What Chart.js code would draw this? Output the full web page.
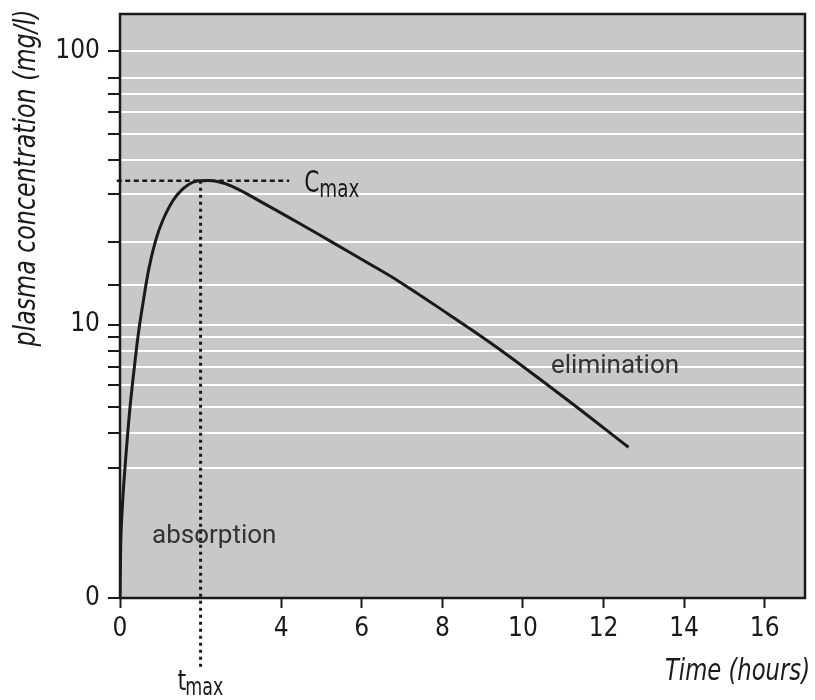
<!DOCTYPE html>
<html>
<head>
<meta charset="utf-8">
<script src="https://cdn.jsdelivr.net/npm/chart.js@4.4.1/dist/chart.umd.min.js"></script>
<style>
  html, body { margin: 0; padding: 0; background: #fff; }
</style>
</head>
<body>
<canvas id="pkChart" width="815" height="700"></canvas>
<script>
// Plasma concentration vs time
const timeHours = [0, 0.01, 0.025, 0.067, 0.124, 0.19, 0.265, 0.356, 0.455, 0.579, 0.723, 0.884, 1.057, 1.312, 1.559, 1.807, 2.0, 2.386, 2.797, 3.624, 4.448, 5.272, 6.099, 6.923, 8.161, 9.399, 11.13, 12.62];
const concentration = [1.0, 1.29, 1.71, 2.27, 3.0, 3.98, 5.27, 6.98, 9.25, 12.2, 16.2, 20.3, 24.0, 28.4, 31.4, 33.2, 33.6, 33.5, 32.0, 27.5, 23.5, 20.0, 17.0, 14.4, 10.9, 8.17, 5.27, 3.56];

// peak markers
const tMax = 2.0;
const cMax = 33.6;
const cMaxLineFrom = -0.08;
const cMaxLineTo = 4.2;
const tMaxLineBottom = 0.55; // dotted line runs on below the axis

// axes
const xTickValues = [0, 4, 6, 8, 10, 12, 14, 16];
const yTickValues = [1, 3, 4, 5, 6, 7, 8, 9, 10, 14, 20, 30, 40, 50, 60, 70, 80, 100];
const yLabelValues = [1, 10, 100];
const yLabelTexts = ['0', '10', '100'];

const NARROW = '"Liberation Sans Narrow", "DejaVu Sans Condensed", sans-serif';
const PLAIN = 'Roboto, "Liberation Sans", sans-serif';
const INK = '#1a1a1a';

const curvePoints = timeHours.map((t, i) => ({ x: t, y: concentration[i] }));

// draw text squeezed sideways (the original uses a condensed face)
function squeezed(ctx, text, x, y, sx, align) {
  ctx.save();
  ctx.translate(x, y);
  ctx.scale(sx, 1);
  ctx.textAlign = align || 'left';
  ctx.fillText(text, 0, 0);
  ctx.restore();
  return ctx.measureText(text).width * sx;
}

function fitScale(ctx, text, width) {
  return width / ctx.measureText(text).width;
}

// gray plot box, frame and the text labels
const decor = {
  id: 'decor',
  beforeDraw(chart) {
    const { ctx, chartArea: a } = chart;
    ctx.save();
    ctx.fillStyle = '#c8c8c8';
    ctx.fillRect(a.left, a.top, a.right - a.left, a.bottom - a.top);
    ctx.restore();
  },
  afterDraw(chart) {
    const { ctx, chartArea: a, scales } = chart;
    ctx.save();
    ctx.strokeStyle = INK;
    ctx.lineWidth = 2.5;
    ctx.strokeRect(a.left, a.top, a.right - a.left, a.bottom - a.top);

    ctx.fillStyle = INK;
    ctx.textBaseline = 'alphabetic';

    // C max
    const cx = scales.x.getPixelForValue(cMaxLineTo) + 15;
    const cy = scales.y.getPixelForValue(cMax);
    ctx.font = '30px ' + NARROW;
    const cw = squeezed(ctx, 'C', cx, cy + 11, 0.8);
    ctx.font = '25px ' + NARROW;
    squeezed(ctx, 'max', cx + cw, cy + 16, fitScale(ctx, 'max', 40));

    // t max
    const tx = scales.x.getPixelForValue(tMax) - 23;
    ctx.font = '29px ' + NARROW;
    const tw = squeezed(ctx, 't', tx, 690, 0.85);
    ctx.font = '25px ' + NARROW;
    squeezed(ctx, 'max', tx + tw - 1, 695, fitScale(ctx, 'max', 38));

    // phase labels
    ctx.fillStyle = '#333333';
    ctx.font = '26px ' + PLAIN;
    ctx.fillText('absorption', 152, 543);
    ctx.fillText('elimination', 551, 373);

    // axis titles
    ctx.fillStyle = INK;
    ctx.font = 'italic 30px ' + NARROW;
    squeezed(ctx, 'Time (hours)', 810, 680, fitScale(ctx, 'Time (hours)', 145), 'right');

    ctx.translate(35, 178);
    ctx.rotate(-Math.PI / 2);
    const yTitle = 'plasma concentration (mg/l)';
    squeezed(ctx, yTitle, 0, 0, fitScale(ctx, yTitle, 337), 'center');
    ctx.restore();
  }
};

new Chart(document.getElementById('pkChart'), {
  type: 'scatter',
  data: {
    datasets: [
      {
        data: curvePoints,
        showLine: true,
        borderColor: INK,
        borderWidth: 3,
        pointRadius: 0,
        tension: 0.4
      },
      {
        data: [{ x: cMaxLineFrom, y: cMax }, { x: cMaxLineTo, y: cMax }],
        showLine: true,
        borderColor: INK,
        borderWidth: 2.5,
        borderDash: [5, 3.5],
        pointRadius: 0,
        clip: false
      },
      {
        data: [{ x: tMax, y: cMax }, { x: tMax, y: tMaxLineBottom }],
        showLine: true,
        borderColor: INK,
        borderWidth: 3,
        borderDash: [3, 4],
        pointRadius: 0,
        clip: false
      }
    ]
  },
  options: {
    responsive: false,
    animation: false,
    events: [],
    layout: { padding: { top: 14, right: 10, left: 0, bottom: 0 } },
    plugins: { legend: { display: false }, tooltip: { enabled: false } },
    scales: {
      x: {
        type: 'linear',
        min: 0,
        max: 17,
        afterBuildTicks: s => { s.ticks = xTickValues.map(v => ({ value: v })); },
        afterFit: s => { s.height = 102; s.paddingLeft = 0; s.paddingRight = 0; },
        border: { display: false },
        grid: { drawOnChartArea: false, tickLength: 10, tickWidth: 2, tickColor: INK },
        ticks: { autoSkip: false, maxRotation: 0, padding: 6, color: INK, font: { family: NARROW, size: 26 } }
      },
      y: {
        type: 'logarithmic',
        min: 1,
        max: 137,
        afterBuildTicks: s => { s.ticks = yTickValues.map(v => ({ value: v })); },
        afterFit: s => { s.width = 120; s.paddingTop = 0; s.paddingBottom = 0; },
        border: { display: false },
        grid: {
          color: c => (c.tick && c.tick.value === 1 ? 'rgba(0,0,0,0)' : '#ffffff'),
          lineWidth: 2,
          tickLength: 12,
          tickWidth: 2,
          tickColor: INK
        },
        ticks: {
          autoSkip: false,
          padding: 8,
          color: INK,
          font: { family: NARROW, size: 26 },
          callback: v => {
            const i = yLabelValues.indexOf(v);
            return i >= 0 ? yLabelTexts[i] : '';
          }
        }
      }
    }
  },
  plugins: [decor]
});
</script>
</body>
</html>
